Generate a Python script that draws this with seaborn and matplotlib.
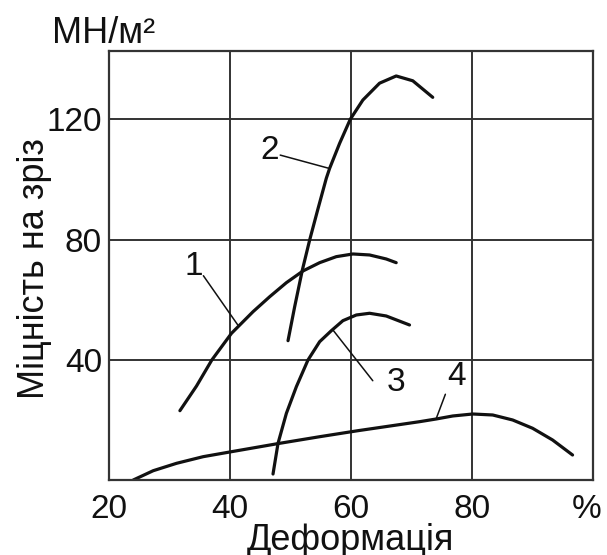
import numpy as np
import pandas as pd
import matplotlib
matplotlib.use("Agg")
import matplotlib.pyplot as plt
import matplotlib.transforms as mtransforms
import seaborn as sns

# Values
x_ticks = [20, 40, 60, 80, 100]
x_tick_labels = ["20", "40", "60", "80", "%"]
y_ticks = [40, 80, 120]

curve1_x = [31.72, 34.47, 37.0, 40.25, 43.81, 46.57, 49.32, 52.06, 54.82, 57.57, 60.31, 63.07, 65.82, 67.47]
curve1_y = [23.14, 31.35, 40.0, 48.87, 56.05, 61.04, 65.69, 69.58, 72.34, 74.34, 75.23, 74.90, 73.57, 72.34]

curve2_x = [49.59, 50.69, 51.96, 53.17, 54.49, 55.92, 56.47, 58.12, 59.88, 61.96, 64.72, 67.47, 70.21, 73.51]
curve2_y = [46.41, 57.71, 69.91, 79.89, 89.86, 100.4, 103.7, 112.0, 120.0, 126.4, 132.0, 134.4, 132.8, 127.3]

curve3_x = [47.11, 47.94, 49.32, 50.97, 52.89, 54.82, 56.75, 58.66, 60.88, 63.07, 65.82, 69.67]
curve3_y = [2.09, 12.30, 22.27, 31.12, 39.99, 46.08, 49.73, 53.06, 54.95, 55.52, 54.62, 51.63]

curve4_x = [24.01, 27.31, 31.17, 35.56, 40.25, 48.22, 54.82, 61.14, 71.32, 74.08, 76.82, 80.12,
            83.42, 86.72, 90.02, 93.32, 96.62]
curve4_y = [0.10, 3.19, 5.65, 7.85, 9.51, 12.30, 14.49, 16.49, 19.48, 20.38, 21.38, 22.04,
            21.71, 20.05, 17.29, 13.40, 8.41]

# label text position and leader line (from -> to) in data units
label_names = ["1", "2", "3", "4"]
label_pos = [(34.0, 71.0), (46.6, 109.5), (67.5, 32.5), (77.4, 34.5)]
leader_start = [(35.6, 68.0), (48.3, 108.1), (63.6, 33.1), (75.6, 28.6)]
leader_end = [(41.3, 51.6), (56.35, 103.7), (57.0, 50.0), (74.1, 20.6)]

curves = pd.concat([
    pd.DataFrame({"x": curve1_x, "y": curve1_y, "curve": "1"}),
    pd.DataFrame({"x": curve2_x, "y": curve2_y, "curve": "2"}),
    pd.DataFrame({"x": curve3_x, "y": curve3_y, "curve": "3"}),
    pd.DataFrame({"x": curve4_x, "y": curve4_y, "curve": "4"}),
])

sns.set_theme(style="white")
plt.rcParams["font.family"] = ["Liberation Sans", "DejaVu Sans"]

fig = plt.figure(figsize=(6.07, 5.55), dpi=100)
ax = fig.add_axes([109 / 607, 1 - 480.3 / 555, (593 - 109) / 607, (480.3 - 51) / 555])

for name, grp in curves.groupby("curve"):
    sns.lineplot(data=grp, x="x", y="y", sort=False, estimator=None,
                 color="#111111", linewidth=2.3, ax=ax, legend=False)

# leader lines and curve numbers
for name, pos, p0, p1 in zip(label_names, label_pos, leader_start, leader_end):
    ax.plot([p0[0], p1[0]], [p0[1], p1[1]], color="#111111", linewidth=1.1)
    ax.text(pos[0], pos[1], name, fontsize=24, ha="center", va="center", color="#111111")

ax.set_xlim(20, 100)
ax.set_ylim(0, 142.7)
ax.set_xticks(x_ticks)
ax.set_xticklabels(x_tick_labels)
ax.set_yticks(y_ticks)
ax.tick_params(axis="both", length=0, labelsize=24, colors="#111111")
ax.tick_params(axis="x", pad=10)
ax.tick_params(axis="y", pad=5)
ax.grid(True, color="#333333", linewidth=1.4)
for s in ax.spines.values():
    s.set_visible(True)
    s.set_color("#333333")
    s.set_linewidth(1.6)
ax.set_xlabel("")
ax.set_ylabel("")

# nudge the "%" label a little to the left so it stays inside the picture
pct = ax.get_xticklabels()[-1]
pct.set_transform(pct.get_transform() + mtransforms.ScaledTranslation(-6 / 100, 0, fig.dpi_scale_trans))

fig.text(52 / 607, 1 - 43 / 555, "МН/м²", fontsize=26, ha="left", va="baseline", color="#111111")
fig.text(35 / 607, 1 - 269 / 555, "Міцність на зріз", fontsize=26, rotation=90,
         ha="center", va="center", color="#111111")
fig.text(350 / 607, 1 - 541 / 555, "Деформація", fontsize=26, ha="center", va="center", color="#111111")

fig.savefig("out.png", dpi=100)
